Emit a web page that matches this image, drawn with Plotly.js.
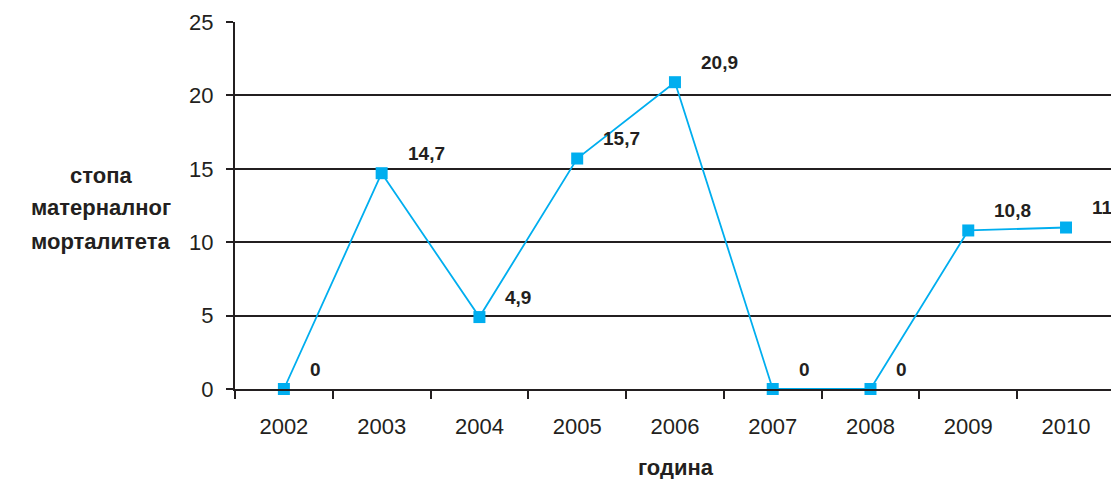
<!DOCTYPE html>
<html>
<head>
<meta charset="utf-8">
<script src="https://cdn.plot.ly/plotly-3.0.1.min.js"></script>
<style>
  html, body { margin: 0; padding: 0; background: #ffffff; }
  #chart { width: 1111px; height: 479px; }
</style>
</head>
<body>
<div id="chart"></div>
<script>
// Maternal mortality rate by year
const years = ['2002', '2003', '2004', '2005', '2006', '2007', '2008', '2009', '2010'];
const rates = [0, 14.7, 4.9, 15.7, 20.9, 0, 0, 10.8, 11];
const yTicks = [0, 5, 10, 15, 20, 25];
const yTitleLines = ['стопа', 'матерналног', 'морталитета'];
const xTitle = 'година';

const ink = '#231f20';
const lineBlue = '#00aeef';
const font = 'Liberation Sans, Arial, sans-serif';

const fmt = v => String(v).replace('.', ',');

const trace = {
  x: years,
  y: rates,
  type: 'scatter',
  mode: 'lines+markers',
  line: { color: lineBlue, width: 1.8 },
  marker: { symbol: 'square', size: 12, color: lineBlue },
  cliponaxis: false,
  hoverinfo: 'skip'
};

// value labels sit up and to the right of each point (category index on x)
const valueLabels = years.map((yr, i) => ({
  x: i, y: rates[i], xref: 'x', yref: 'y',
  text: fmt(rates[i]),
  showarrow: false,
  xanchor: 'left', yanchor: 'middle',
  xshift: 24, yshift: 20,
  font: { family: font, size: 19, color: ink, weight: 'bold' }
}));

// plot area spans y pixels 22..389, x pixels 235..1111
const plotTop = 22, plotBottom = 389, plotLeft = 235, plotW = 876;
const pyToPaper = py => (plotBottom - py) / (plotBottom - plotTop);
const pxToPaper = px => (px - plotLeft) / plotW;

const yTitle = yTitleLines.map((t, k) => ({
  xref: 'paper', yref: 'paper',
  x: pxToPaper(101), y: pyToPaper(175 + 33 * k),
  xanchor: 'center', yanchor: 'middle', showarrow: false,
  text: t,
  font: { family: font, size: 22, color: ink, weight: 'bold' }
}));

const layout = {
  width: 1111, height: 479,
  margin: { l: 235, r: 0, t: 22, b: 90 },
  paper_bgcolor: '#ffffff', plot_bgcolor: '#ffffff',
  showlegend: false,
  font: { family: font, color: ink },
  xaxis: {
    type: 'category',
    range: [-0.5, 8.46],
    tickson: 'boundaries',
    ticks: 'outside', ticklen: 8, tickwidth: 2, tickcolor: ink,
    showline: true, linecolor: ink, linewidth: 2,
    showgrid: false, zeroline: false,
    ticklabelstandoff: 17,
    tickfont: { family: font, size: 22, color: ink }
  },
  yaxis: {
    range: [0, 25],
    tickvals: yTicks,
    ticktext: yTicks.map(String),
    ticks: 'outside', ticklen: 7, tickwidth: 2, tickcolor: ink,
    showline: true, linecolor: ink, linewidth: 2,
    showgrid: true, gridcolor: ink, gridwidth: 2,
    zeroline: false,
    ticklabelstandoff: 8,
    tickfont: { family: font, size: 22, color: ink }
  },
  annotations: valueLabels.concat(yTitle, [
    {
      xref: 'paper', yref: 'paper', x: pxToPaper(676), y: pyToPaper(467),
      xanchor: 'center', yanchor: 'middle', showarrow: false,
      text: xTitle,
      font: { family: font, size: 22, color: ink, weight: 'bold' }
    }
  ])
};

Plotly.newPlot('chart', [trace], layout, { displayModeBar: false, staticPlot: true });
</script>
</body>
</html>
